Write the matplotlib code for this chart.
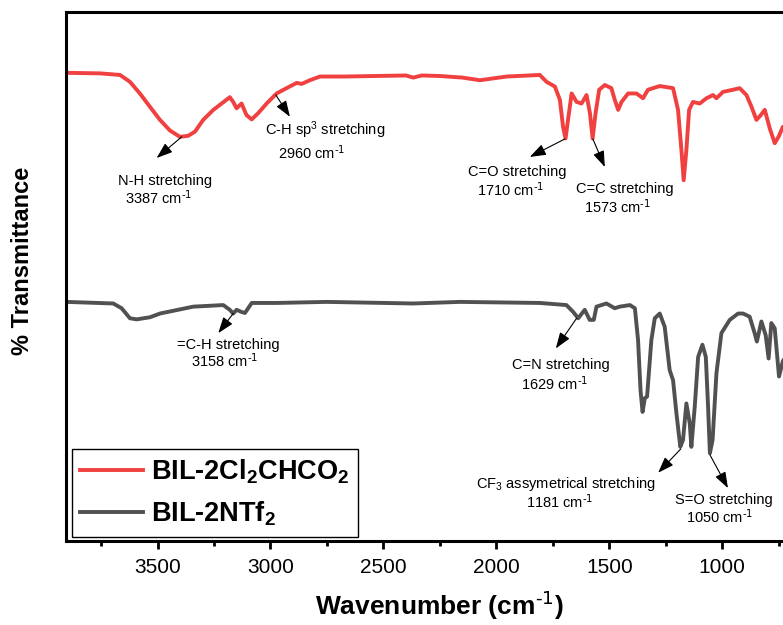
import numpy as np
import matplotlib
matplotlib.use("Agg")
import matplotlib.pyplot as plt

plt.rcParams['font.family'] = ['Liberation Sans', 'DejaVu Sans']
plt.rcParams['mathtext.default'] = 'regular'
plt.rcParams['axes.unicode_minus'] = False

# FTIR spectra (wavenumber in cm-1, transmittance in a.u.)
wn_cl = [3903, 3755, 3666, 3622, 3578, 3534, 3489, 3445, 3401, 3364, 3334, 3298,
         3253, 3216, 3180, 3165, 3150, 3128, 3106, 3083, 3054, 3017, 2973, 2929,
         2884, 2862, 2826, 2781, 2678, 2400, 2368, 2330, 2250, 2150, 2073, 1955,
         1808, 1778, 1741, 1719, 1705, 1694, 1683, 1667, 1645, 1623, 1601, 1586,
         1574, 1561, 1545, 1520, 1491, 1476, 1461, 1446, 1417, 1380, 1351, 1329,
         1277, 1218, 1196, 1181, 1171, 1159, 1147, 1130, 1100, 1070, 1041, 1026,
         997, 953, 923, 893, 870, 849, 830, 812, 790, 768, 750, 732, 700]
t_cl = [88.5, 88.4, 88.1, 86.8, 84.6, 82.1, 79.6, 77.6, 76.4, 76.6, 77.4, 79.6,
        81.5, 82.7, 83.9, 83.0, 81.8, 82.7, 80.5, 79.7, 80.9, 82.7, 84.6, 85.6,
        86.6, 86.4, 87.1, 87.8, 87.8, 88.0, 87.6, 88.0, 87.9, 87.6, 87.1, 87.8,
        88.1, 86.8, 85.9, 83.4, 78.3, 76.1, 79.6, 84.6, 83.0, 82.7, 84.3, 80.9,
        76.1, 80.9, 85.3, 86.2, 85.6, 83.4, 81.5, 83.0, 84.6, 84.6, 83.7, 85.3,
        86.0, 85.6, 81.5, 73.9, 68.2, 73.9, 81.5, 83.0, 82.7, 83.7, 84.3, 83.7,
        84.9, 85.3, 85.6, 84.3, 82.0, 79.6, 80.5, 81.5, 78.0, 75.2, 76.5, 78.3, 78.0]

wn_ntf = [3903, 3696, 3659, 3622, 3592, 3533, 3489, 3342, 3209, 3180, 3165, 3150,
          3128, 3113, 3083, 2973, 2752, 2368, 2162, 1808, 1690, 1660, 1638, 1609,
          1587, 1569, 1557, 1513, 1476, 1454, 1409, 1387, 1373, 1362, 1353, 1343,
          1333, 1314, 1299, 1277, 1255, 1233, 1218, 1203, 1186, 1174, 1159, 1144,
          1137, 1122, 1107, 1088, 1073, 1063, 1055, 1043, 1026, 1004, 967, 930,
          908, 879, 857, 847, 827, 808, 795, 783, 768, 749, 732, 700]
t_ntf = [45.2, 44.9, 44.0, 42.1, 41.9, 42.3, 43.0, 44.3, 44.6, 43.7, 43.0, 43.7,
         43.3, 43.1, 45.0, 45.0, 45.2, 44.9, 45.2, 45.0, 44.6, 43.3, 42.1, 43.7,
         41.8, 41.8, 44.3, 44.9, 44.0, 44.3, 44.6, 44.0, 38.0, 28.5, 24.4, 27.0,
         27.3, 38.0, 42.1, 43.0, 40.5, 32.3, 30.4, 24.1, 17.8, 19.1, 26.0, 22.2,
         17.8, 25.4, 34.8, 37.1, 34.8, 25.4, 16.6, 19.1, 31.7, 39.3, 41.8, 43.0,
         43.0, 42.4, 39.3, 37.7, 41.5, 38.9, 34.5, 41.2, 40.2, 31.1, 34.0, 36.0]

labels = ['BIL-2Cl$_2$CHCO$_2$', 'BIL-2NTf$_2$']
inv_cm = r'cm$^{\text{-1}}$'

# band assignments: (name, value, peak point, arrow head, name pos, value pos)
bands = [
    ('N-H stretching', '3387 ' + inv_cm, (3393, 76.4), (3504, 72.4), (3675, 68.1), (3644, 64.8)),
    ('C-H sp$^3$ stretching', '2960 ' + inv_cm, (2976, 84.3), (2914, 80.2), (3025, 77.7), (2967, 73.3)),
    ('C=O stretching', '1710 ' + inv_cm, (1697, 76.0), (1852, 72.6), (2126, 69.8), (2086, 66.4)),
    ('C=C stretching', '1573 ' + inv_cm, (1573, 76.0), (1520, 70.7), (1648, 66.5), (1613, 63.1)),
    ('=C-H stretching', '3158 ' + inv_cm, (3165, 43.0), (3231, 39.3), (3415, 37.1), (3353, 34.0)),
    ('C=N stretching', '1629 ' + inv_cm, (1645, 42.1), (1737, 36.4), (1933, 33.3), (1889, 29.7)),
    ('CF$_3$ assymetrical stretching', '1181 ' + inv_cm, (1184, 17.4), (1284, 12.9), (2091, 10.8), (1870, 7.4)),
    ('S=O stretching', '1050 ' + inv_cm, (1055, 16.3), (975, 10.0), (1210, 7.8), (1162, 4.5)),
]

fig = plt.figure(figsize=(7.83, 6.25), dpi=100)
ax = fig.add_axes([0.0849, 0.1344, 0.953, 0.8464])

ax.plot(wn_cl, t_cl, color='#F04040', lw=2.8, label=labels[0],
        solid_joinstyle='round')
ax.plot(wn_ntf, t_ntf, color='#515151', lw=2.8, label=labels[1],
        solid_joinstyle='round')

ax.set_xlim(3903, 600)
ax.set_ylim(0, 100)

for name, val, peak, head, npos, vpos in bands:
    ax.annotate('', xy=head, xytext=peak,
                arrowprops=dict(arrowstyle='-|>,head_length=0.7,head_width=0.25',
                                color='black', lw=0.8, mutation_scale=14,
                                shrinkA=0, shrinkB=0))
    ax.text(npos[0], npos[1], name, fontsize=10.5, ha='left', va='center')
    ax.text(vpos[0], vpos[1], val, fontsize=10.5, ha='left', va='center')

ax.set_xticks(np.arange(1000, 3501, 500))
ax.set_xticks(np.arange(750, 3900, 250), minor=True)
ax.set_yticks([])
ax.tick_params(axis='x', which='major', direction='out', length=6, width=2,
               labelsize=15, pad=6)
ax.tick_params(axis='x', which='minor', direction='out', length=3.5, width=2)
for s in ax.spines.values():
    s.set_linewidth(2.2)

ax.set_xlabel('Wavenumber (' + inv_cm + ')', fontsize=19, fontweight='bold',
              labelpad=9)
ax.set_ylabel('% Transmittance', fontsize=17, fontweight='bold')
ax.yaxis.set_label_coords(-0.043, 0.53)

leg = ax.legend(loc='lower left', bbox_to_anchor=(0.007, 0.008),
                prop={'weight': 'bold', 'size': 19.5}, handlelength=2.3,
                handletextpad=0.3, borderpad=0.32, labelspacing=0.5,
                fancybox=False, framealpha=1, edgecolor='black', borderaxespad=0)
leg.get_frame().set_linewidth(1.0)

fig.savefig('out.png', dpi=100)
